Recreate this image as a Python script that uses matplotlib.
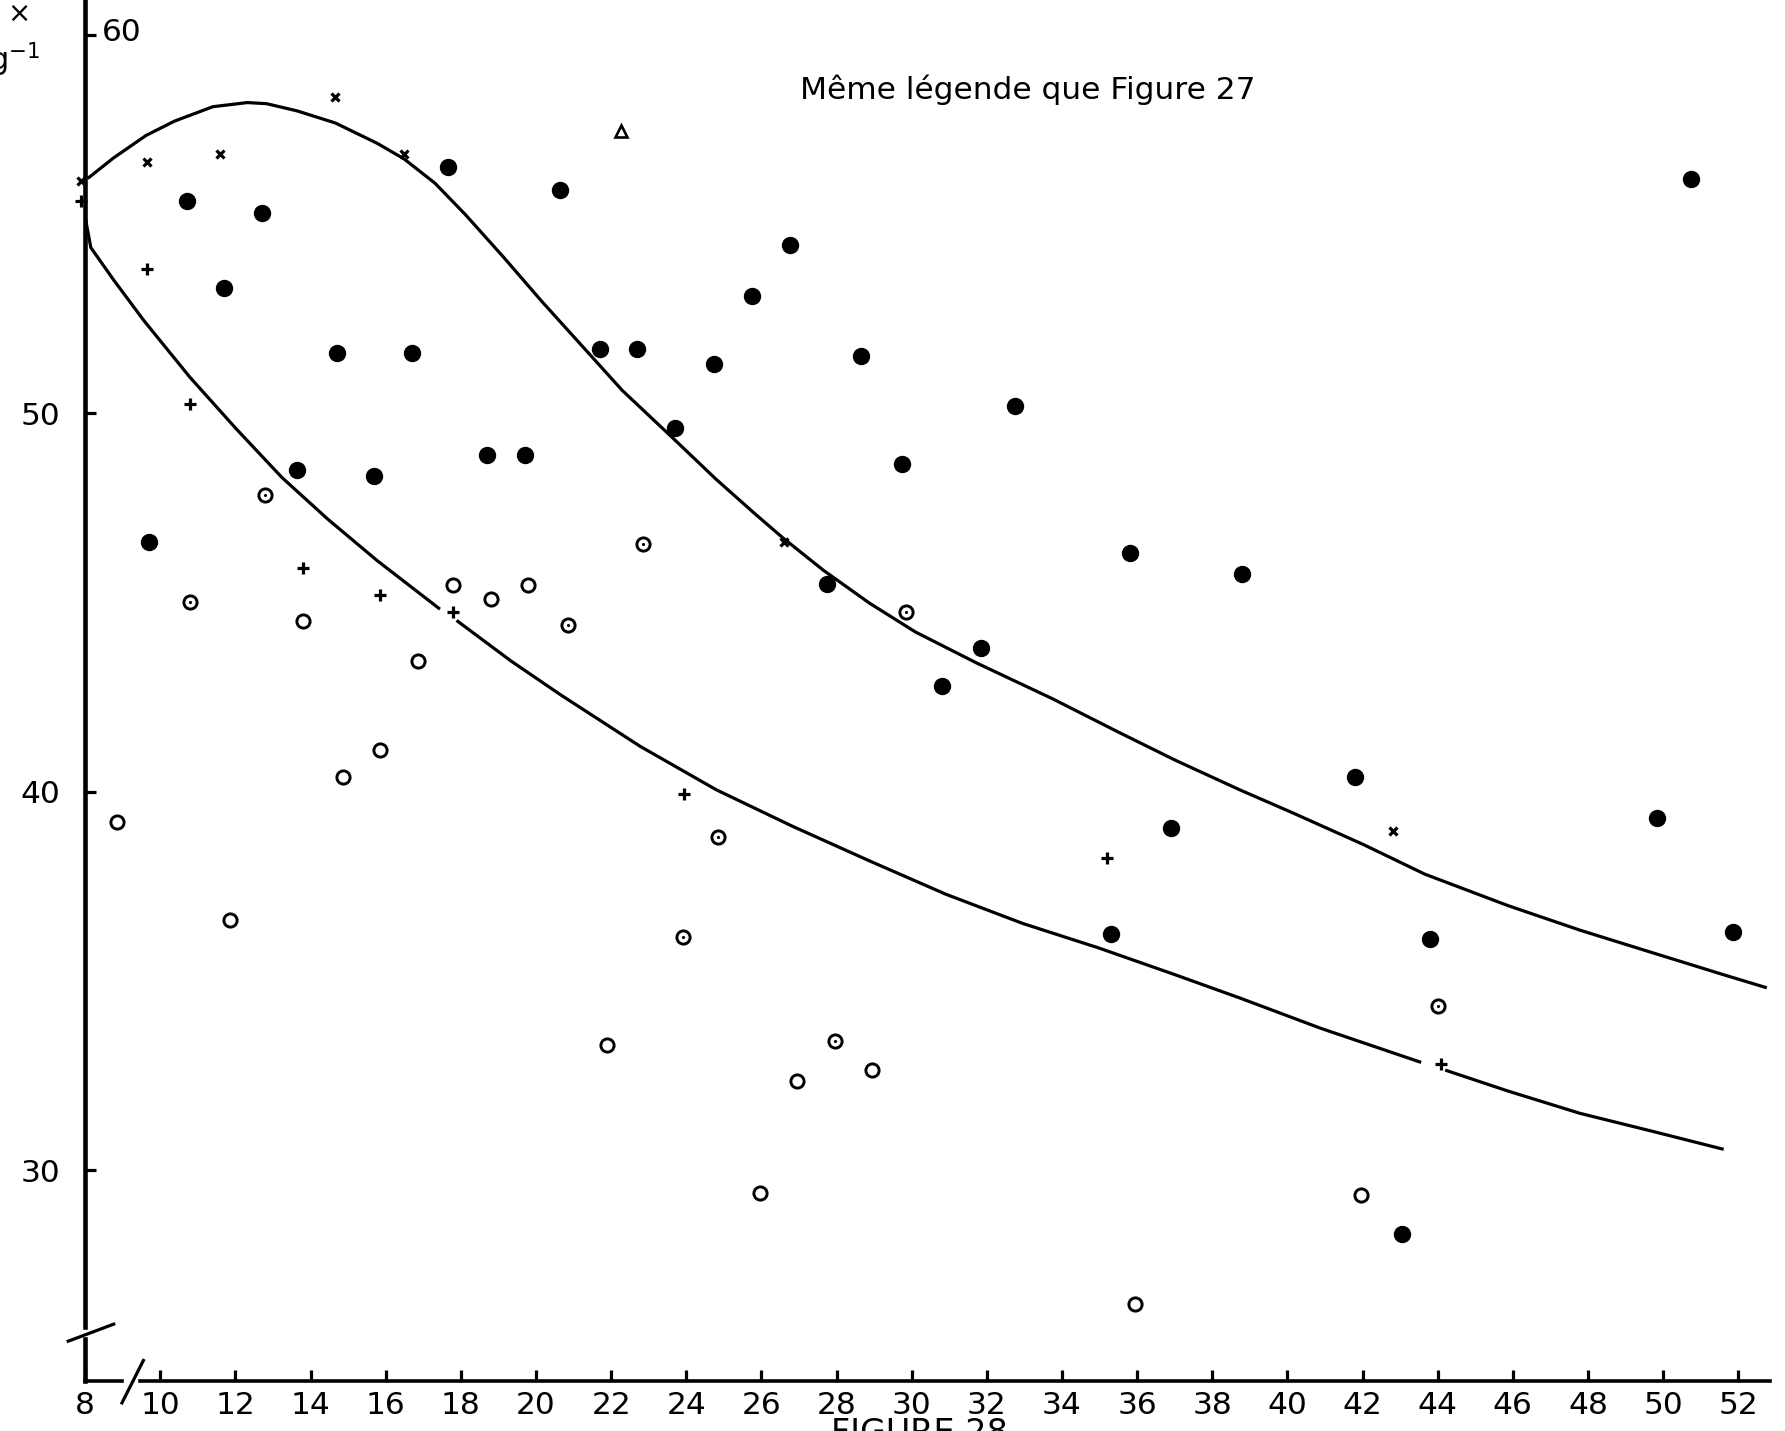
import matplotlib.pyplot as plt
import numpy as np

# filled circles
full_x = [9.7, 10.7, 11.7, 12.7, 13.65, 14.7, 15.7, 16.7, 17.65, 18.7, 19.7, 20.65,
          21.7, 22.7, 23.7, 24.75, 25.75, 26.75, 27.75, 28.65, 29.75, 30.8, 31.85,
          32.75, 35.8, 35.3, 36.9, 38.8, 41.8, 43.05, 43.8, 49.85, 50.75, 51.85]
full_y = [46.6, 55.6, 53.3, 55.3, 48.5, 51.6, 48.35, 51.6, 56.5, 48.9, 48.9, 55.9,
          51.7, 51.7, 49.6, 51.3, 53.1, 54.45, 45.5, 51.5, 48.65, 42.8, 43.8,
          50.2, 46.3, 36.25, 39.05, 45.75, 40.4, 28.3, 36.1, 39.3, 56.2, 36.3]

# open circles
open_x = [8.85, 11.85, 13.8, 14.85, 15.85, 16.85, 17.8, 18.8, 19.8, 21.9, 25.95,
          26.95, 28.95, 35.95, 41.95]
open_y = [39.2, 36.6, 44.5, 40.4, 41.1, 43.45, 45.45, 45.1, 45.45, 33.3, 29.4,
          32.35, 32.65, 26.45, 29.35]

# open circles with a centre dot
dotted_x = [10.8, 12.8, 20.85, 22.85, 23.9, 24.85, 27.95, 29.85, 44.0]
dotted_y = [45.0, 47.85, 44.4, 46.55, 36.15, 38.8, 33.4, 44.75, 34.35]

# crosses
cross_x = [7.9, 9.65, 11.6, 14.65, 16.5, 26.6, 42.8]
cross_y = [56.15, 56.65, 56.85, 58.35, 56.85, 46.6, 38.95]

# plus signs
plus_x = [7.9, 9.65, 10.8, 13.8, 15.85, 17.8, 23.95, 35.2, 44.1]
plus_y = [55.6, 53.8, 50.25, 45.9, 45.2, 44.75, 39.95, 38.25, 32.8]

# triangle
tri_x = [22.25]
tri_y = [57.45]

# hand-drawn curves (nan = gap in the line)
upper_x = [8.1, 8.76, 9.62, 10.38, 11.4, 12.32, 12.83, 13.64, 14.66, 15.78, 16.49,
           17.31, 18.12, 19.14, 20.16, 21.28, 22.3, 23.69, 24.8, 25.82, 26.58,
           27.65, 28.88, 30.1, 31.73, 33.76, 35.49, 37.02, 38.73, 40.12, 42.03,
           43.66, 45.87, 47.79, 49.7, 51.62, 52.72]
upper_y = [56.23, 56.75, 57.34, 57.72, 58.1, 58.21, 58.18, 57.99, 57.67, 57.13, 56.72,
           56.08, 55.25, 54.12, 52.95, 51.72, 50.6, 49.3, 48.25, 47.35, 46.7,
           45.85, 44.98, 44.22, 43.4, 42.45, 41.58, 40.83, 40.05, 39.45, 38.6,
           37.82, 36.99, 36.34, 35.75, 35.16, 34.83]

lower_x = [8.02, 8.15, 8.76, 9.57, 10.79, 12.01, 13.24, 14.46, 15.78, 17.41, np.nan,
           17.92, 19.34, 20.67, 22.77, 24.8, 26.84, 28.88, 30.91, 32.95, 34.98,
           37.02, 38.73, 40.88, 43.52, np.nan, 44.24, 45.87, 47.79, 49.7, 51.57]
lower_y = [55.08, 54.38, 53.52, 52.44, 50.95, 49.6, 48.3, 47.2, 46.1, 44.85, np.nan,
           44.5, 43.45, 42.55, 41.2, 40.05, 39.08, 38.17, 37.29, 36.52, 35.87,
           35.16, 34.55, 33.75, 32.86, np.nan, 32.63, 32.09, 31.5, 31.03, 30.56]

x_ticks = [8] + list(range(10, 53, 2))
y_ticks = [30, 40, 50, 60]

fig = plt.figure(figsize=(17.85, 14.31), dpi=100)
ax = fig.add_axes([0.0477, 0.035, 0.944, 0.965])
ax.set_xlim(8, 52.85)
ax.set_ylim(24.43, 60.92)
for s in ax.spines.values():
    s.set_visible(False)

k = "black"
ax.plot(upper_x, upper_y, color=k, lw=2.3, clip_on=False)
ax.plot(lower_x, lower_y, color=k, lw=2.3, clip_on=False)

ax.plot(full_x, full_y, "o", color=k, ms=11.5, clip_on=False)
ax.plot(open_x, open_y, "o", mfc="white", mec=k, mew=2.1, ms=9.5, clip_on=False)
ax.plot(dotted_x, dotted_y, "o", mfc="white", mec=k, mew=2.1, ms=9.5, clip_on=False)
ax.plot(dotted_x, dotted_y, ".", color=k, ms=2.5, clip_on=False)
ax.plot(cross_x, cross_y, "x", color=k, mew=2.3, ms=5.5, clip_on=False)
ax.plot(plus_x, plus_y, "+", color=k, mew=2.3, ms=8, clip_on=False)
ax.plot(tri_x, tri_y, "^", mfc="white", mec=k, mew=1.9, ms=8.5, clip_on=False)

# axes drawn by hand, with the breaks
ax.plot([8, 8], [25.85, 60.92], color=k, lw=3.3, clip_on=False)
ax.plot([8, 8], [24.43, 25.55], color=k, lw=3.3, clip_on=False)
ax.plot([7.55, 8.76], [25.48, 25.93], color=k, lw=2.3, clip_on=False)
ax.plot([8, 8.98], [24.43, 24.43], color=k, lw=2.6, clip_on=False)
ax.plot([9.47, 52.85], [24.43, 24.43], color=k, lw=2.6, clip_on=False)
ax.plot([8.98, 9.55], [23.85, 24.97], color=k, lw=2.3, clip_on=False)

ax.set_xticks(x_ticks)
ax.set_xticklabels([str(v) for v in x_ticks])
ax.set_yticks(y_ticks)
ax.set_yticklabels(["30", "40", "50", ""])
ax.tick_params(axis="both", direction="in", length=8, width=2.3, color=k,
               labelsize=22.5, labelcolor=k)
ax.tick_params(axis="y", pad=18)
ax.tick_params(axis="x", pad=7)
ax.text(8.45, 60.05, "60", fontsize=22.5, va="center", ha="left")

ax.text(27.03, 58.55, "Même légende que Figure 27", fontsize=22.5,
        va="center", ha="left")

fig.text(0.004, 0.99, "×", fontsize=20, va="center", ha="left")
fig.text(-0.006, 0.958, "g$^{-1}$", fontsize=22, va="center", ha="left")
fig.text(0.4655, 0.0098, "FIGURE 28", fontsize=24, va="top", ha="left")

fig.savefig("out.png", dpi=100)
